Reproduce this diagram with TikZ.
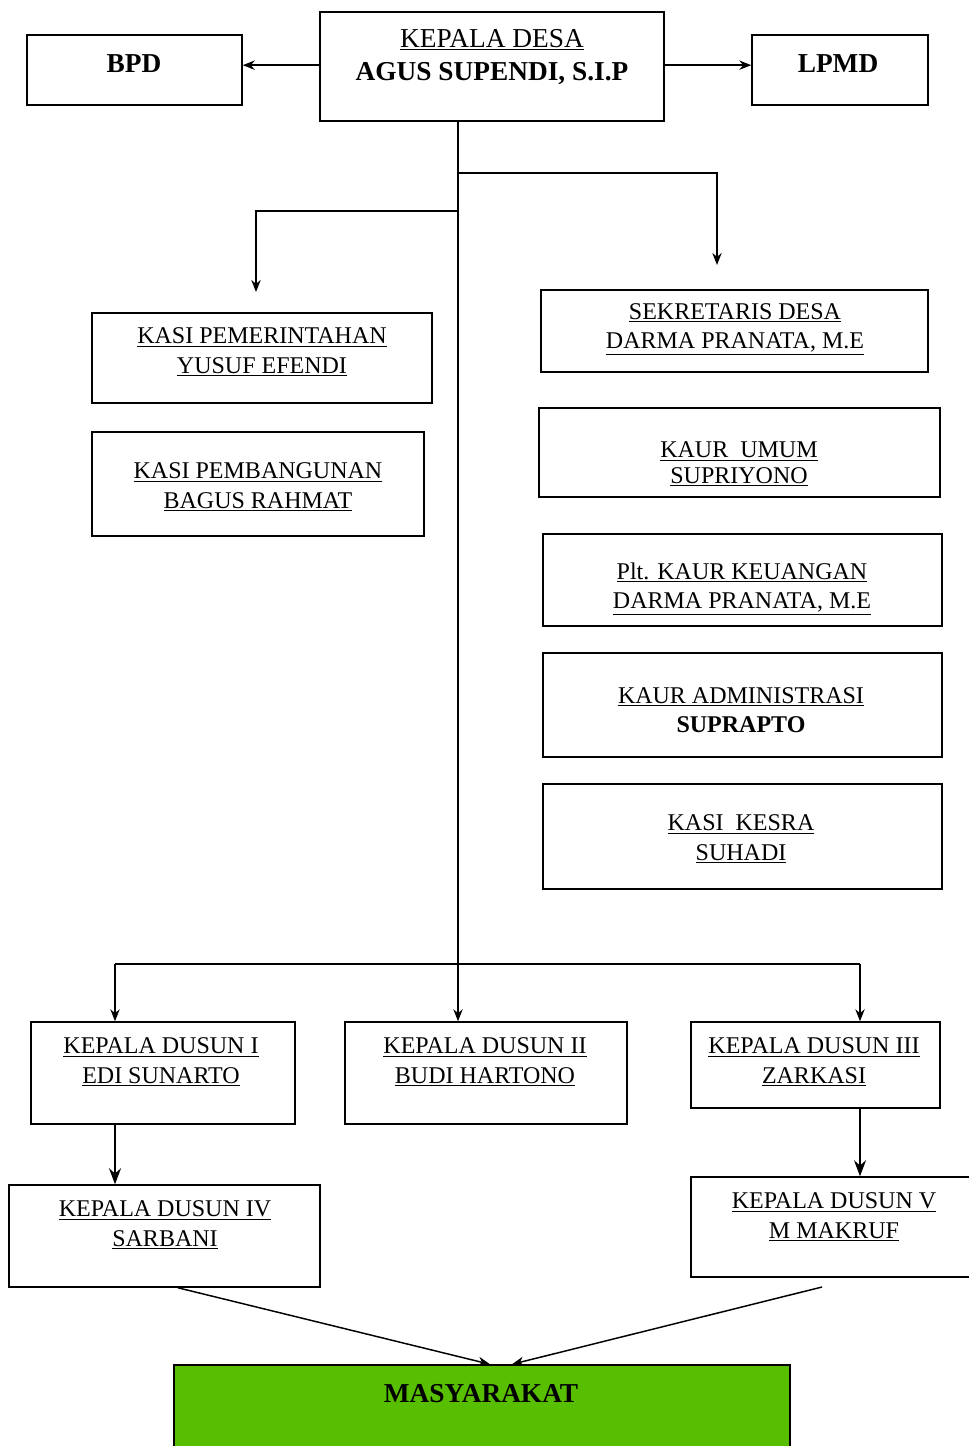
\documentclass[tikz,border=0pt]{standalone}
\usepackage{fontspec}
\setmainfont{Liberation Serif}
\usetikzlibrary{arrows.meta,fit,calc}
\definecolor{masygreen}{RGB}{88,190,0}
\newcommand{\ulx}[1]{\underline{#1}}
\begin{document}
\begin{tikzpicture}[x=0.75pt,y=-0.75pt,
  box/.style={draw, line width=1.1pt, inner sep=0pt},
  txt/.style={align=center, font=\fontsize{18}{22}\selectfont, inner sep=0pt, yshift=-1.5pt},
  big/.style={align=center, font=\fontsize{20.5}{25}\selectfont, inner sep=0pt, yshift=-1.5pt},
  conn/.style={line width=1.1pt},
  arr/.style={line width=1.1pt, -{Stealth[length=9pt,width=7pt]}},
  bigarr/.style={line width=1.1pt, -{Stealth[length=12pt,width=9pt]}},
]
\useasboundingbox (0,0) rectangle (969,1446);

% boxes
\node[box, fit={(320,12) (664,121)}] (kd) {};
\node[box, fit={(27,35) (242,105)}] (bpd) {};
\node[box, fit={(752,35) (928,105)}] (lpmd) {};
\node[box, fit={(92,313) (432,403)}] (kpem) {};
\node[box, fit={(92,432) (424,536)}] (kpemb) {};
\node[box, fit={(541,290) (928,372)}] (sek) {};
\node[box, fit={(539,408) (940,497)}] (kumum) {};
\node[box, fit={(543,534) (942,626)}] (keu) {};
\node[box, fit={(543,653) (942,757)}] (adm) {};
\node[box, fit={(543,784) (942,889)}] (kesra) {};
\node[box, fit={(31,1022) (295,1124)}] (d1) {};
\node[box, fit={(345,1022) (627,1124)}] (d2) {};
\node[box, fit={(691,1022) (940,1108)}] (d3) {};
\node[box, fit={(9,1185) (320,1287)}] (d4) {};
\node[box, fit={(691,1177) (985,1277)}] (d5) {};
\node[box, fill=masygreen, fit={(174,1365) (790,1470)}] (masy) {};

% texts
\node[big] (tkd) at (492,55) {\ulx{KEPALA DESA}\\ \textbf{AGUS SUPENDI, S.I.P}};
\node[big, font=\fontsize{20.5}{25}\selectfont\bfseries] (tbpd) at (134,62) {BPD};
\node[big, font=\fontsize{20.5}{25}\selectfont\bfseries] (tlpmd) at (838,62) {LPMD};
\node[txt] (tkpem) at (262,350) {\ulx{KASI PEMERINTAHAN}\\ \ulx{YUSUF EFENDI}};
\node[txt] (tkpemb) at (258,485) {\ulx{KASI PEMBANGUNAN}\\ \ulx{BAGUS RAHMAT}};
\node[txt] (tsek) at (735,327) {\ulx{SEKRETARIS DESA}\\ \ulx{DARMA PRANATA, M.E}};
\node[txt] (tkumum) at (739,462) {\ulx{KAUR~~UMUM}\\[-3pt] \ulx{SUPRIYONO}};
\node[txt] (tkeu) at (742,587) {\ulx{Plt. KAUR KEUANGAN}\\ \ulx{DARMA PRANATA, M.E}};
\node[txt] (tadm) at (741,708) {\ulx{KAUR ADMINISTRASI}\\ \textbf{SUPRAPTO}};
\node[txt] (tkesra) at (741,837) {\ulx{KASI~~KESRA}\\ \ulx{SUHADI}};
\node[txt] (td1) at (161,1060) {\ulx{KEPALA DUSUN I}\\ \ulx{EDI SUNARTO}};
\node[txt] (td2) at (485,1060) {\ulx{KEPALA DUSUN II}\\ \ulx{BUDI HARTONO}};
\node[txt] (td3) at (814,1060) {\ulx{KEPALA DUSUN III}\\ \ulx{ZARKASI}};
\node[txt] (td4) at (165,1223) {\ulx{KEPALA DUSUN IV}\\ \ulx{SARBANI}};
\node[txt] (td5) at (834,1215) {\ulx{KEPALA DUSUN V}\\ \ulx{M MAKRUF}};
\node[big, font=\fontsize{20.5}{25}\selectfont\bfseries] (tmasy) at (481,1392) {MASYARAKAT};

% connector coordinates
\coordinate (trunk) at (458,0);
\coordinate (brR) at (458,173);
\coordinate (endR) at (717,265);
\coordinate (brL) at (458,211);
\coordinate (endL) at (256,292);
\coordinate (hl) at (115,964);
\coordinate (hr) at (860,964);
\coordinate (d5out) at (822,1287);

% connectors
\draw[arr] ([yshift=1pt]kd.west) -- ([yshift=1pt]kd.west -| bpd.east);
\draw[arr] ([yshift=1pt]kd.east) -- ([yshift=1pt]kd.east -| lpmd.west);
\draw[arr] (kd.south -| trunk) -- (d2.north -| trunk);
\draw[arr] (brR) -| (endR);
\draw[arr] (brL) -| (endL);
\draw[conn] (hl) -- (hr);
\draw[arr] (hl) -- (hl |- d1.north);
\draw[arr] (hr) -- (hr |- d3.north);
\draw[bigarr] (d1.south -| hl) -- (d4.north -| hl);
\draw[bigarr] (d3.south -| hr) -- (d5.north -| hr);
\draw[arr] ([xshift=10pt]d4.south) -- ([xshift=6pt]masy.north);
\draw[arr] (d5out) -- ([xshift=22.5pt]masy.north);
\end{tikzpicture}
\end{document}
